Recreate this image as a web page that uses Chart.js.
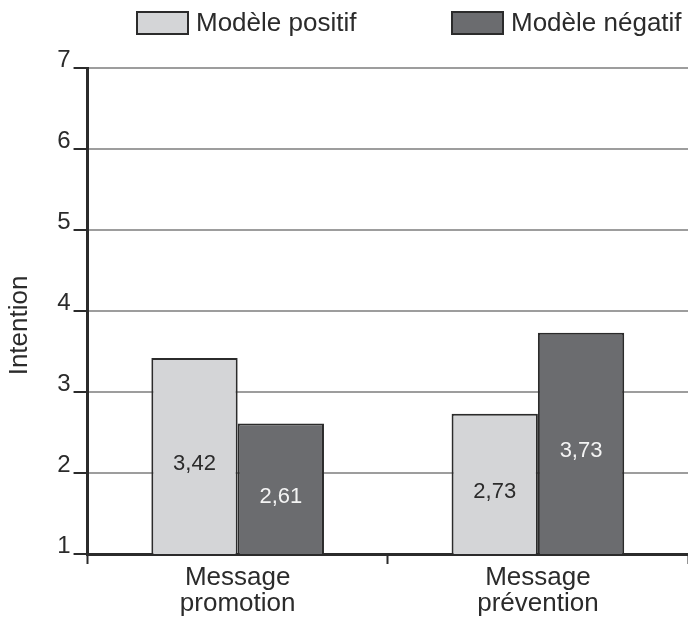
<!DOCTYPE html>
<html>
<head>
<meta charset="utf-8">
<script src="https://cdn.jsdelivr.net/npm/chart.js@4/dist/chart.umd.min.js"></script>
<style>
  html, body { margin: 0; padding: 0; background: #ffffff; }
  canvas { display: block; }
</style>
</head>
<body>
<canvas id="chart" width="688" height="619"></canvas>
<script>
// Intention scores by message type and model
const categories = [['Message', 'promotion'], ['Message', 'prévention']];
const seriesNames = ['Modèle positif', 'Modèle négatif'];
const positifValues = [3.42, 2.73];
const negatifValues = [2.61, 3.73];
const yTickValues = [1, 2, 3, 4, 5, 6, 7];

const FONT = "'Liberation Sans', Arial, Helvetica, sans-serif";
const INK = '#2b2b2b';
const LIGHT_FILL = '#d4d5d7';
const DARK_FILL = '#6b6c6f';

const fmt = v => v.toFixed(2).replace('.', ',');

// Value printed in the middle of every bar
const barValueLabels = {
  id: 'barValueLabels',
  afterDatasetsDraw(chart) {
    const ctx = chart.ctx;
    const yScale = chart.scales.y;
    const basePx = yScale.getPixelForValue(yScale.min);
    ctx.save();
    ctx.font = `22px ${FONT}`;
    ctx.textAlign = 'center';
    ctx.textBaseline = 'middle';
    chart.data.datasets.forEach((ds, di) => {
      const meta = chart.getDatasetMeta(di);
      meta.data.forEach((bar, i) => {
        const topPx = yScale.getPixelForValue(ds.data[i]);
        ctx.fillStyle = ds.valueColor;
        ctx.fillText(fmt(ds.data[i]), bar.x, (topPx + basePx) / 2 + 8);
      });
    });
    ctx.restore();
  }
};

// Legend row above the plot
const topLegend = {
  id: 'topLegend',
  afterDraw(chart) {
    const ctx = chart.ctx;
    const slots = [137, 452];
    ctx.save();
    ctx.font = `26px ${FONT}`;
    ctx.textBaseline = 'middle';
    chart.data.datasets.forEach((ds, di) => {
      const x = slots[di];
      ctx.fillStyle = ds.backgroundColor;
      ctx.fillRect(x, 12, 51, 22);
      ctx.strokeStyle = INK;
      ctx.lineWidth = 2;
      ctx.strokeRect(x, 12, 51, 22);
      ctx.fillStyle = INK;
      ctx.fillText(ds.label, x + 59, 24);
    });
    ctx.restore();
  }
};

new Chart(document.getElementById('chart'), {
  type: 'bar',
  data: {
    labels: categories,
    datasets: [
      {
        label: seriesNames[0],
        data: positifValues,
        backgroundColor: LIGHT_FILL,
        borderColor: INK,
        borderWidth: 2,
        valueColor: INK
      },
      {
        label: seriesNames[1],
        data: negatifValues,
        backgroundColor: DARK_FILL,
        borderColor: INK,
        borderWidth: 2,
        valueColor: '#f4f4f4'
      }
    ]
  },
  options: {
    responsive: false,
    animation: false,
    layout: { padding: { top: 68, right: 0, bottom: 1, left: 0 } },
    datasets: {
      bar: { categoryPercentage: 0.575, barPercentage: 1.0 }
    },
    plugins: {
      legend: { display: false },
      tooltip: { enabled: false }
    },
    scales: {
      x: {
        grid: {
          display: true,
          offset: true,
          drawOnChartArea: false,
          drawTicks: true,
          tickLength: 10,
          tickColor: INK,
          tickWidth: 2
        },
        border: { display: true, color: INK, width: 3 },
        ticks: {
          color: INK,
          padding: 1,
          font: { family: FONT, size: 26, lineHeight: 1.0 }
        }
      },
      y: {
        min: yTickValues[0],
        max: yTickValues[yTickValues.length - 1],
        afterBuildTicks(scale) {
          scale.ticks = yTickValues.map(v => ({ value: v }));
        },
        grid: {
          color: '#9d9d9d',
          lineWidth: 2,
          drawTicks: true,
          tickLength: 14,
          tickColor: INK,
          tickWidth: 2
        },
        border: { display: true, color: INK, width: 3 },
        ticks: {
          color: INK,
          padding: 3,
          labelOffset: -8,
          font: { family: FONT, size: 24 }
        },
        title: {
          display: true,
          text: 'Intention    ',
          color: INK,
          padding: { top: 4, bottom: 19 },
          font: { family: FONT, size: 26 }
        }
      }
    }
  },
  plugins: [barValueLabels, topLegend]
});
</script>
</body>
</html>
